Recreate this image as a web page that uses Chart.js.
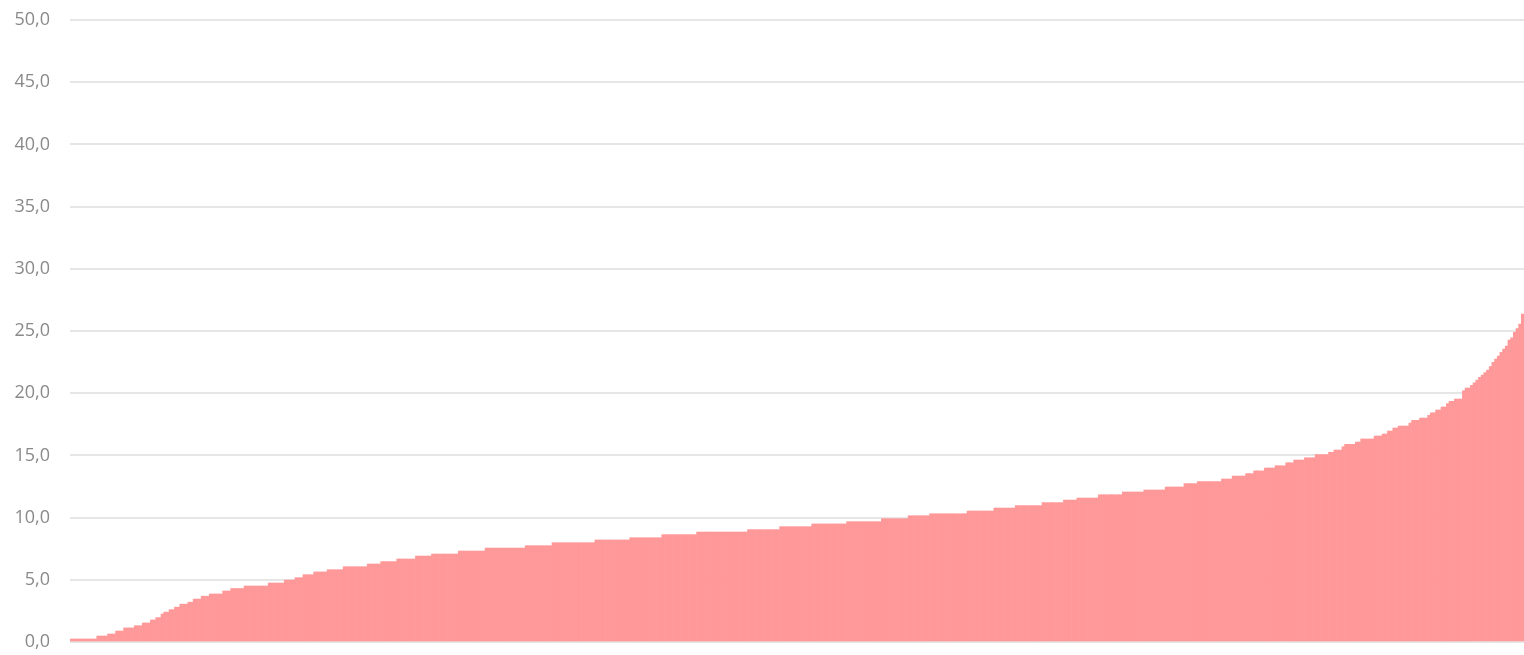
<!DOCTYPE html>
<html>
<head>
<meta charset="utf-8">
<script src="https://cdn.jsdelivr.net/npm/chart.js@4"></script>
<style>
    html, body { margin: 0; padding: 0; background: #ffffff; }
    #wrap { width: 1524px; height: 655px; position: relative; }
</style>
</head>
<body>
<div id="wrap"><canvas id="chart"></canvas></div>
<script>
// 数值（排序后的阶梯），每个阶梯的值与其包含的柱子数量
const stepValues = [
    0.24, 0.48, 0.64, 0.88, 1.13, 1.31, 1.53, 1.77, 1.96, 2.25,
    2.40, 2.60, 2.80, 3.04, 3.20, 3.45, 3.68, 3.86, 4.10, 4.30,
    4.50, 4.74, 4.98, 5.17, 5.41, 5.63, 5.81, 6.05, 6.27, 6.46,
    6.67, 6.91, 7.07, 7.31, 7.55, 7.74, 7.98, 8.20, 8.38, 8.63,
    8.84, 9.03, 9.27, 9.49, 9.67, 9.91, 10.15, 10.31, 10.53, 10.77,
    10.96, 11.20, 11.41, 11.57, 11.84, 12.06, 12.22, 12.46, 12.73, 12.89,
    13.10, 13.34, 13.53, 13.75, 13.99, 14.17, 14.41, 14.63, 14.81, 15.06,
    15.25, 15.43, 15.70, 15.89, 16.08, 16.32, 16.56, 16.72, 16.96, 17.20,
    17.36, 17.60, 17.82, 18.00, 18.22, 18.43, 18.65, 18.89, 19.16, 19.35,
    19.53, 20.20, 20.42, 20.63, 20.84, 21.06, 21.28, 21.46, 21.65, 21.86,
    22.13, 22.48, 22.75, 22.99, 23.29, 23.55, 23.79, 24.28, 24.46, 24.90,
    25.20, 25.56, 26.37
];
const stepCounts = [
    10, 4, 3, 3, 4, 3, 3, 2, 2, 1,
    2, 2, 2, 3, 2, 3, 3, 5, 3, 5,
    9, 6, 4, 3, 4, 5, 6, 9, 5, 6,
    7, 6, 10, 10, 15, 10, 16, 13, 12, 13,
    19, 12, 12, 13, 13, 10, 8, 14, 10, 8,
    10, 8, 5, 8, 9, 8, 8, 7, 5, 9,
    4, 5, 3, 4, 4, 4, 3, 4, 4, 5,
    2, 3, 1, 4, 2, 5, 3, 2, 2, 2,
    4, 1, 3, 3, 1, 2, 2, 2, 1, 2,
    3, 1, 2, 1, 1, 1, 1, 1, 1, 1,
    1, 1, 1, 1, 1, 1, 1, 1, 1, 1,
    1, 1, 1
];

// y轴
const yMin = 0;
const yMax = 50;
const yStep = 5;

// 展开为单根柱子
const values = [];
stepValues.forEach((v, i) => {
    for (let k = 0; k < stepCounts[i]; k++) values.push(v);
});
const labels = values.map((_, i) => String(i + 1));

new Chart(document.getElementById('chart'), {
    type: 'bar',
    data: {
        labels: labels,
        datasets: [{
            data: values,
            backgroundColor: '#ff9999',
            borderWidth: 0,
            barPercentage: 1.0,
            categoryPercentage: 1.0
        }]
    },
    options: {
        responsive: true,
        maintainAspectRatio: false,
        animation: false,
        layout: { padding: { top: 20, bottom: 13, right: 0, left: 0 } },
        plugins: {
            legend: { display: false },
            tooltip: { enabled: false }
        },
        scales: {
            x: { display: false },
            y: {
                min: yMin,
                max: yMax,
                afterFit: scale => { scale.width = 70; },
                grid: {
                    color: '#e6e6e6',
                    lineWidth: 2,
                    drawTicks: true,
                    tickLength: 20,
                    tickColor: 'rgba(0,0,0,0)'
                },
                border: { display: false },
                ticks: {
                    stepSize: yStep,
                    padding: 0,
                    color: '#8a8a8a',
                    font: { family: 'Open Sans', size: 18 },
                    callback: v => v.toFixed(1).replace('.', ',')
                }
            }
        }
    }
});
</script>
</body>
</html>
